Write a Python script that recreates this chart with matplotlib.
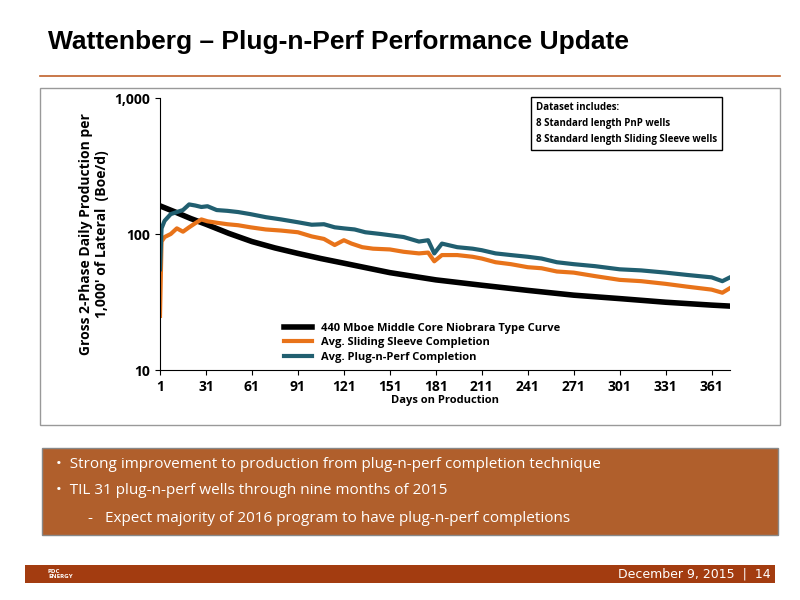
import matplotlib
matplotlib.use("Agg")
import matplotlib.pyplot as plt
from matplotlib.patches import Rectangle
from matplotlib.ticker import FixedLocator, NullLocator

# type curve (smooth)
tc_days = [1, 11, 21, 31, 46, 61, 76, 91, 106, 121, 151, 181, 211, 241, 271, 301, 331, 361, 373]
tc_vals = [161, 145, 130, 118, 101, 88, 79, 72, 66, 61, 52, 46, 42, 38.5, 35.5, 33.5, 31.5, 30, 29.5]

ss_days = [1, 2, 4, 8, 12, 16, 20, 24, 28, 32, 38, 45, 52, 60, 70, 80, 91, 100, 108, 115, 121, 126,
           133, 140, 151, 160, 170, 176, 180, 185, 195, 205, 211, 220, 230, 241, 250, 260, 271,
           285, 301, 315, 331, 345, 361, 368, 373]
ss_vals = [25, 88, 95, 100, 110, 104, 112, 120, 128, 124, 121, 118, 116, 112, 108, 106, 103, 96, 92,
           83, 90, 85, 80, 78, 77, 74, 72, 73, 63, 70, 70, 68, 66, 62, 60, 57, 56, 53, 52,
           49, 46, 45, 43, 41, 39, 37, 40]

pp_days = [1, 2, 4, 8, 12, 16, 20, 24, 28, 32, 38, 45, 52, 60, 70, 80, 91, 100, 108, 115, 121, 128,
           135, 145, 151, 160, 170, 176, 180, 185, 195, 205, 211, 220, 230, 241, 250, 260, 271,
           285, 301, 315, 331, 345, 361, 368, 373]
pp_vals = [55, 110, 125, 140, 145, 150, 165, 162, 158, 160, 150, 148, 145, 140, 133, 128, 122, 117, 118,
           112, 110, 108, 103, 100, 98, 95, 88, 90, 72, 85, 80, 78, 76, 72, 70, 68, 66, 62, 60,
           58, 55, 54, 52, 50, 48, 45, 48]

fig = plt.figure(figsize=(8, 6), dpi=100)
plt.rcParams['font.family'] = ['Open Sans', 'DejaVu Sans']

def fy(px):
    return 1 - px / 600

fig.text(0.06, fy(42), "Wattenberg – Plug-n-Perf Performance Update", fontsize=19, fontweight="bold",
         family="Liberation Sans", va="center")
fig.add_artist(plt.Line2D([0.05, 0.975], [fy(76), fy(76)], color="#c0612b", lw=1.2))
fig.add_artist(Rectangle((0.05, fy(425)), 0.925, (425 - 88) / 600, fill=False, ec="#999999", lw=1))

ax = fig.add_axes([160 / 800, fy(370), 570 / 800, 272 / 600])
ax.plot(tc_days, tc_vals, color="black", lw=4, label="440 Mboe Middle Core Niobrara Type Curve")
ax.plot(ss_days, ss_vals, color="#e8731a", lw=3, label="Avg. Sliding Sleeve Completion")
ax.plot(pp_days, pp_vals, color="#215f70", lw=3, label="Avg. Plug-n-Perf Completion")
ax.set_yscale("log")
ax.set_ylim(10, 1000)
ax.set_xlim(1, 373)
ax.yaxis.set_major_locator(FixedLocator([10, 100, 1000]))
ax.yaxis.set_minor_locator(NullLocator())
ax.set_yticklabels(["10", "100", "1,000"], fontweight="bold", fontsize=10)
ax.set_xticks(range(1, 362, 30))
ax.set_xticklabels([str(d) for d in range(1, 362, 30)], fontweight="bold", fontsize=10)
ax.set_xlabel("Days on Production", fontweight="bold", fontsize=8, labelpad=1)
ax.set_ylabel("Gross 2-Phase Daily Production per\n1,000' of Lateral  (Boe/d)", fontweight="bold", fontsize=10)
for s in ("top", "right"):
    ax.spines[s].set_visible(False)
ax.legend(loc="lower left", bbox_to_anchor=(0.2, -0.01), frameon=False,
          prop={"weight": "bold", "size": 8}, handlelength=2.5, labelspacing=0.3)
ax.text(0.66, 0.985, "Dataset includes:\n8 Standard length PnP wells\n8 Standard length Sliding Sleeve wells",
        transform=ax.transAxes, fontsize=7, fontweight="bold", va="top", linespacing=1.6,
        bbox=dict(boxstyle="square,pad=0.5", fc="white", ec="black", lw=1))

fig.add_artist(Rectangle((42 / 800, fy(535)), 736 / 800, 87 / 600, fc="#b05f2c", ec="#888888", lw=1))
fig.text(0.07, fy(464), "•  Strong improvement to production from plug-n-perf completion technique",
         color="white", fontsize=11, va="center")
fig.text(0.07, fy(491), "•  TIL 31 plug-n-perf wells through nine months of 2015",
         color="white", fontsize=11, va="center")
fig.text(0.11, fy(518), "-   Expect majority of 2016 program to have plug-n-perf completions",
         color="white", fontsize=11, va="center")

fig.add_artist(Rectangle((25 / 800, fy(583)), 750 / 800, 18 / 600, fc="#a33c10", ec="none"))
fig.text(0.06, fy(574), "PDC\nENERGY", color="white", fontsize=4.5, fontweight="bold", va="center")
fig.text(0.963, fy(574), "December 9, 2015  |  14", color="white", fontsize=9, ha="right", va="center",
         family="Liberation Sans Narrow")

fig.savefig("out.png", dpi=100)
